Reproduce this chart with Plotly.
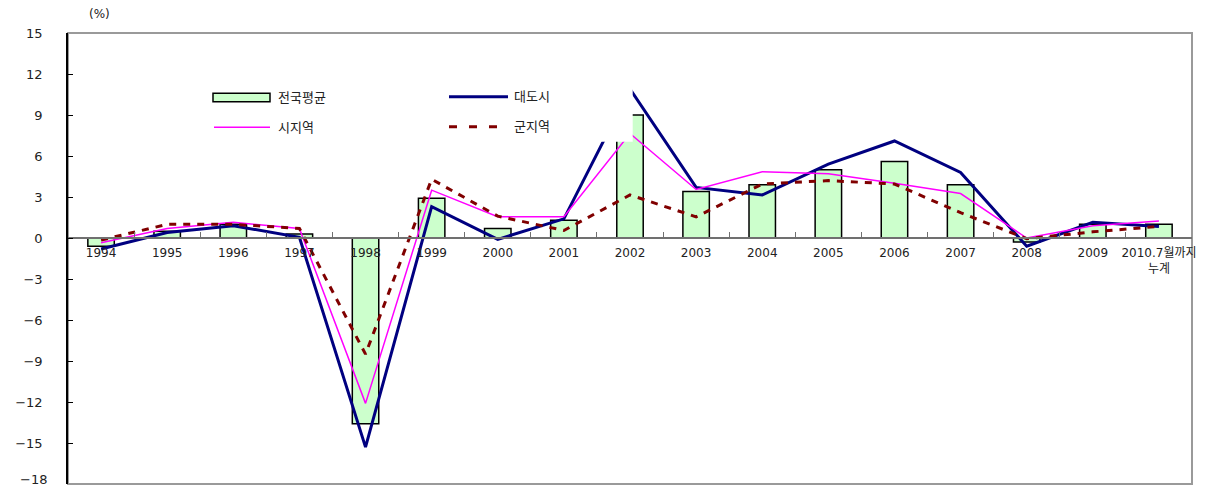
import plotly.graph_objects as go

categories = ["1994", "1995", "1996", "1997", "1998", "1999", "2000", "2001", "2002",
              "2003", "2004", "2005", "2006", "2007", "2008", "2009", "2010.7월까지<br>누계"]
national_avg = [-0.6, 0.5, 1.0, 0.3, -13.6, 2.9, 0.7, 1.3, 9.0, 3.4, 3.9, 5.0, 5.6, 3.9, -0.3, 1.0, 1.0]
metro = [-0.8, 0.4, 0.9, 0.05, -15.3, 2.3, -0.1, 1.4, 10.9, 3.7, 3.15, 5.4, 7.1, 4.8, -0.6, 1.15, 0.85]
city = [-0.35, 0.7, 1.15, 0.7, -12.1, 3.5, 1.55, 1.55, 7.65, 3.55, 4.85, 4.7, 4.0, 3.25, 0.0, 0.9, 1.25]
county = [-0.15, 1.0, 1.0, 0.7, -8.5, 4.3, 1.6, 0.55, 3.15, 1.55, 3.95, 4.2, 3.95, 1.85, -0.05, 0.45, 0.85]
y_ticks = [15, 12, 9, 6, 3, 0, -3, -6, -9, -12, -15, -18]
series_names = ["전국평균", "대도시", "시지역", "군지역"]

# page body has an 8px margin; work in page pixels and shift
OFF = 8
PAGE_W, PAGE_H = 1213, 489
W, H = PAGE_W - OFF, PAGE_H - OFF
L, R, T, B = 68, 1192, 33, 484  # plot area in page pixels
Y_MIN, Y_MAX = -18.0, 15.0
FONT = "DejaVu Sans, Noto Sans CJK KR, sans-serif"


def px(x):
    return (x - L) / (R - L)


def py(y):
    return (B - y) / (B - T)


fig = go.Figure()
fig.add_trace(go.Bar(x=categories, y=national_avg, name=series_names[0], width=0.4,
                     marker=dict(color="#CCFFCC", line=dict(color="black", width=1.5))))
fig.add_trace(go.Scatter(x=categories, y=metro, name=series_names[1], mode="lines",
                         line=dict(color="#000080", width=3)))
fig.add_trace(go.Scatter(x=categories, y=city, name=series_names[2], mode="lines",
                         line=dict(color="#FF00FF", width=1.5)))
fig.add_trace(go.Scatter(x=categories, y=county, name=series_names[3], mode="lines",
                         line=dict(color="#800000", width=3, dash="7px,7px")))

shapes = []
# plot border
shapes.append(dict(type="rect", xref="paper", yref="paper", x0=0, x1=1, y0=0, y1=1,
                   line=dict(color="#9a9a9a", width=2), layer="below"))
# legend box
shapes.append(dict(type="rect", xref="paper", yref="paper", x0=px(205), x1=px(632.7),
                   y0=py(141.7), y1=py(75), fillcolor="white", line=dict(width=0), layer="above"))
shapes.append(dict(type="rect", xref="paper", yref="paper", x0=px(213), x1=px(270),
                   y0=py(101.7), y1=py(93.3), fillcolor="#CCFFCC",
                   line=dict(color="black", width=1.5), layer="above"))
shapes.append(dict(type="line", xref="paper", yref="paper", x0=px(214), x1=px(270),
                   y0=py(127.3), y1=py(127.3), line=dict(color="#FF00FF", width=1.5), layer="above"))
shapes.append(dict(type="line", xref="paper", yref="paper", x0=px(449), x1=px(508),
                   y0=py(96.7), y1=py(96.7), line=dict(color="#000080", width=3), layer="above"))
shapes.append(dict(type="line", xref="paper", yref="paper", x0=px(449), x1=px(508),
                   y0=py(126.7), y1=py(126.7), line=dict(color="#800000", width=3, dash="8px,12px"),
                   layer="above"))

annotations = []
legend_pos = [(276, 97), (512, 96.7), (276, 127.3), (512, 126.7)]
for name, (lx, ly) in zip(series_names, legend_pos):
    annotations.append(dict(text=name, xref="paper", yref="paper", x=px(lx), y=py(ly),
                            xanchor="left", yanchor="middle", showarrow=False,
                            font=dict(family=FONT, size=13, color="#222")))
annotations.append(dict(text="(%)", xref="paper", yref="paper", x=px(99), y=py(14),
                        xanchor="center", yanchor="middle", showarrow=False,
                        font=dict(family=FONT, size=12, color="#222")))
# bottom tick label (plotly drops it at the figure edge), placed on the y scale
annotations.append(dict(text=f"\u2212{abs(y_ticks[-1])}", xref="paper", yref="y",
                        x=px(68 - 20), y=y_ticks[-1], xanchor="right", yanchor="middle",
                        yshift=5, showarrow=False, borderpad=0,
                        font=dict(family=FONT, size=13, color="#222")))

fig.update_layout(
    width=W, height=H,
    margin=dict(l=L - OFF, r=PAGE_W - R, t=T - OFF, b=PAGE_H - B, autoexpand=False),
    paper_bgcolor="white", plot_bgcolor="white",
    showlegend=False,
    shapes=shapes, annotations=annotations,
    font=dict(family=FONT, size=12, color="#222"),
    xaxis=dict(type="category", range=[-0.5, 16.5], anchor="free", position=-Y_MIN / (Y_MAX - Y_MIN),
               showline=True, linecolor="#707070", linewidth=1.5,
               ticks="inside", ticklen=5, tickcolor="#707070", tickson="boundaries",
               showgrid=False, zeroline=False, automargin=False, tickangle=0,
               ticklabelstandoff=4,
               tickfont=dict(family=FONT, size=12, color="#222")),
    yaxis=dict(range=[Y_MIN, Y_MAX], tickvals=y_ticks[:-1], showline=True, linecolor="black",
               linewidth=1.5, ticks="inside", ticklen=5, tickcolor="black", showgrid=False,
               zeroline=False, automargin=False, ticklabelstandoff=21,
               tickfont=dict(family=FONT, size=13, color="#222")),
)

fig.write_html("out.html")
